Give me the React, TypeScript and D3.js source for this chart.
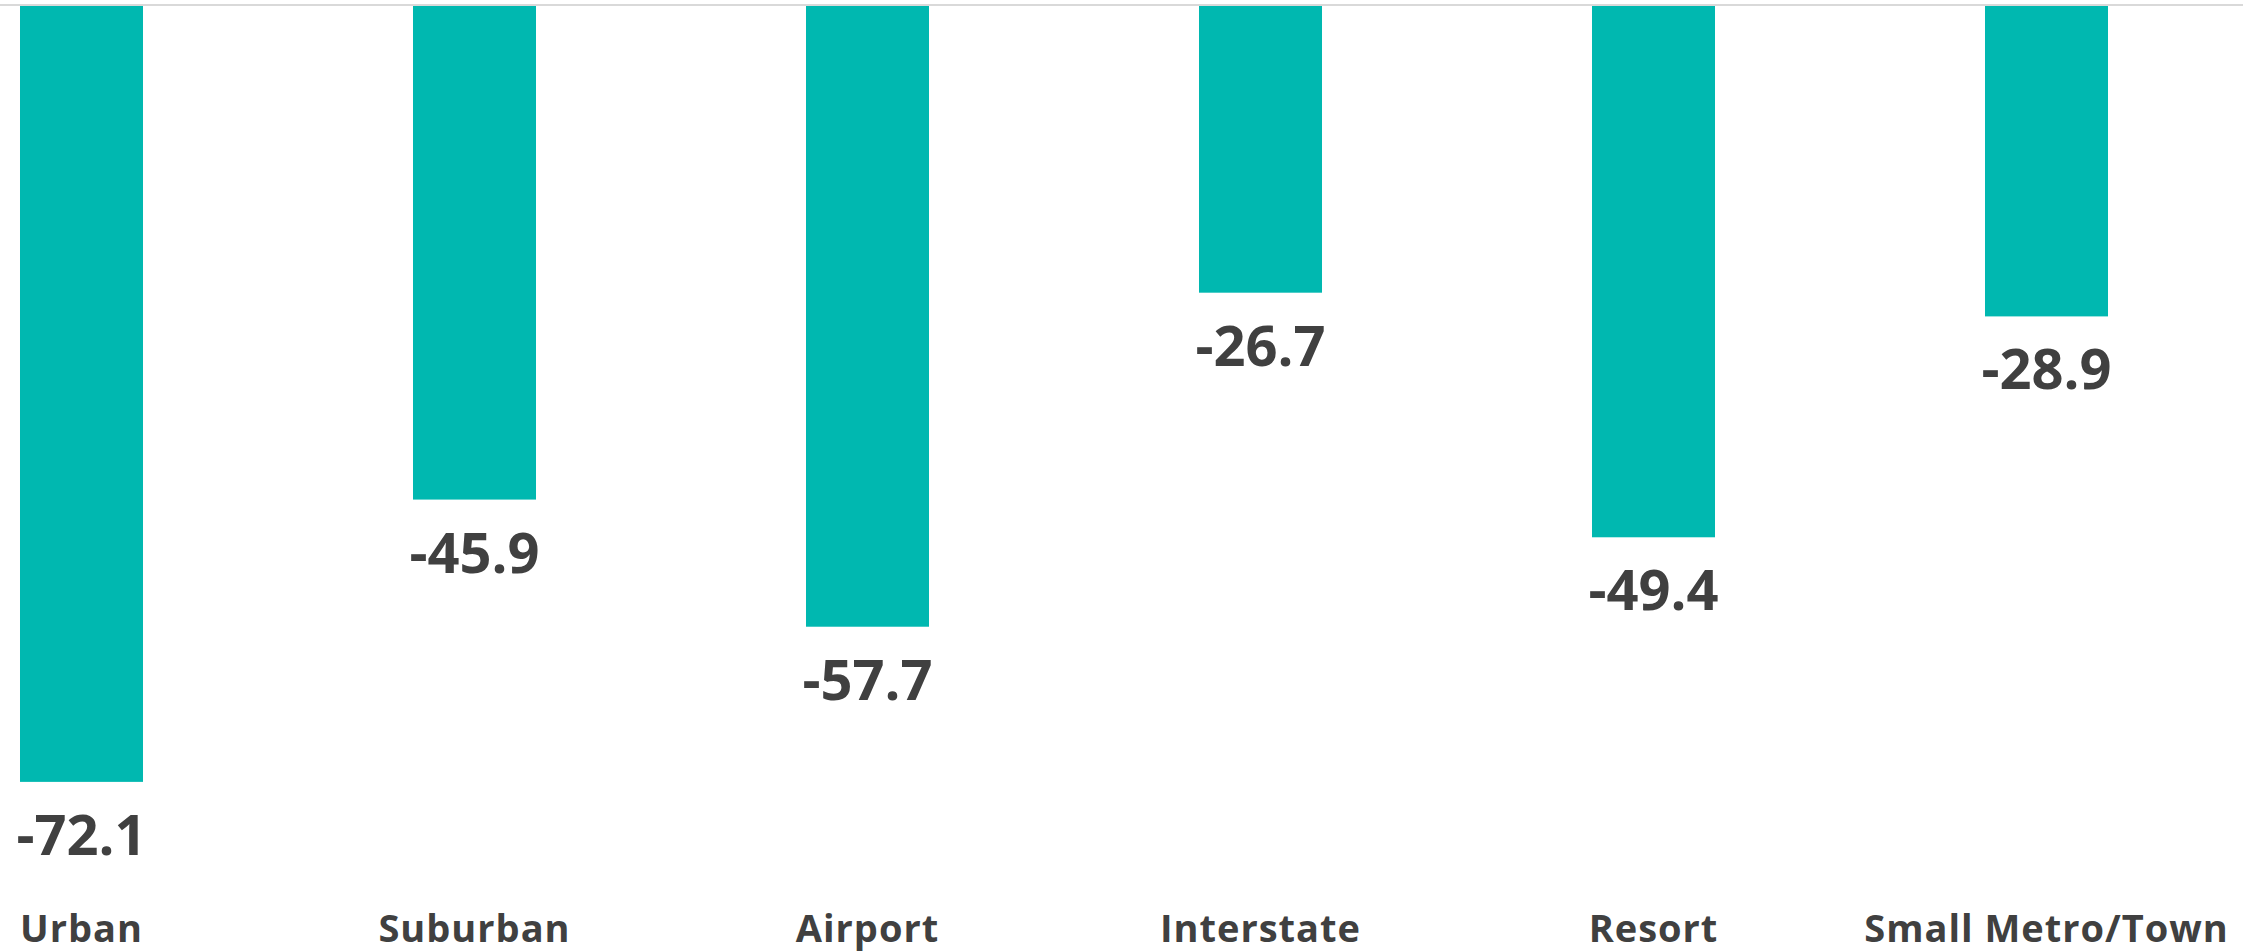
import React from "react";
import * as d3 from "d3";

const categories = ["Urban", "Suburban", "Airport", "Interstate", "Resort", "Small Metro/Town"];
const values = [-72.1, -45.9, -57.7, -26.7, -49.4, -28.9];

const W = 2252;
const H = 952;

export default function App() {
  const x = d3.scaleBand<string>().domain(categories).range([-115, 2243]).paddingInner(0.687).paddingOuter(0.3435);
  const y = d3.scaleLinear().domain([0, -80]).range([5, 867]);
  const bw = x.bandwidth();
  const font = "'Open Sans', 'Noto Sans', sans-serif";
  return (
    <svg width={W} height={H} style={{ position: "absolute", left: 0, top: 0, background: "#fff" }}>
      <line x1={-115} x2={2243} y1={y(0)} y2={y(0)} stroke="#D9D9D9" strokeWidth={2} />
      {categories.map((c, i) => {
        const v = values[i];
        const x0 = x(c)!;
        const cx = x0 + bw / 2;
        return (
          <g key={c}>
            <rect x={x0} y={y(0) + 1} width={bw} height={y(v) - y(0) - 1} fill="#00B8B0" />
            <text x={cx} y={y(v) + 73} textAnchor="middle" fontFamily={font} fontWeight={700} fontSize={56} fill="#404040">
              {v.toFixed(1)}
            </text>
            <text x={cx} y={942} textAnchor="middle" fontFamily={font} fontWeight={700} fontSize={38} letterSpacing={1} fill="#404040">
              {c}
            </text>
          </g>
        );
      })}
    </svg>
  );
}
